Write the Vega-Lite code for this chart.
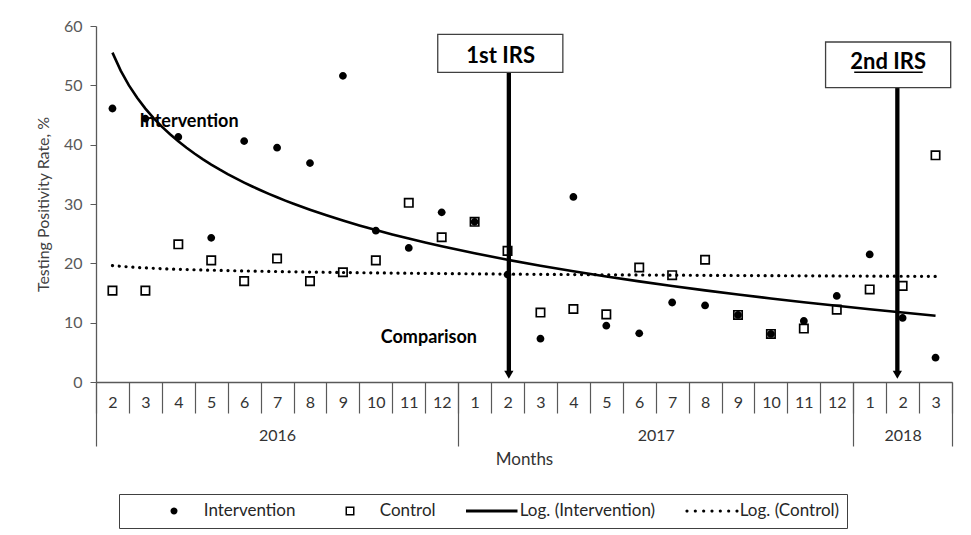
{
  "$schema": "https://vega.github.io/schema/vega-lite/v6.json",
  "width": 856,
  "height": 356,
  "autosize": {"type": "none"},
  "padding": {"left": 96, "top": 26, "right": 19, "bottom": 153},
  "background": "white",
  "config": {
    "view": {"stroke": null},
    "font": "Lato",
    "axis": {"grid": false, "labelFont": "Lato", "titleFont": "Lato"}
  },
  "datasets": {
    "irs": [
      {"label": "1st IRS", "t": 13.04, "box_left": 10.88, "box_right": 14.68, "box_bottom": 52.2, "box_top": 58.6, "text_t": 12.79, "text_v": 55.0, "arrow_end": 1.8, "head": 1.21},
      {"label": "2nd IRS", "t": 24.84, "box_left": 22.66, "box_right": 26.46, "box_bottom": 49.6, "box_top": 57.3, "text_t": 24.56, "text_v": 53.9, "arrow_end": 1.8, "head": 1.21}
    ],
    "underline": [
      {"t1": 23.53, "t2": 25.61, "v": 52.2}
    ],
    "notes": [
      {"label": "Intervention", "t": 1.82, "v": 43.9},
      {"label": "Comparison", "t": 9.15, "v": 7.35}
    ]
  },
  "data": {
    "values": [
      {"t": 1, "year": 2016, "month": 2, "intervention": 46.1, "control": 15.4},
      {"t": 2, "year": 2016, "month": 3, "intervention": 44.4, "control": 15.4},
      {"t": 3, "year": 2016, "month": 4, "intervention": 41.3, "control": 23.2},
      {"t": 4, "year": 2016, "month": 5, "intervention": 24.3, "control": 20.5},
      {"t": 5, "year": 2016, "month": 6, "intervention": 40.6, "control": 17.0},
      {"t": 6, "year": 2016, "month": 7, "intervention": 39.5, "control": 20.8},
      {"t": 7, "year": 2016, "month": 8, "intervention": 36.9, "control": 17.0},
      {"t": 8, "year": 2016, "month": 9, "intervention": 51.6, "control": 18.5},
      {"t": 9, "year": 2016, "month": 10, "intervention": 25.5, "control": 20.5},
      {"t": 10, "year": 2016, "month": 11, "intervention": 22.6, "control": 30.2},
      {"t": 11, "year": 2016, "month": 12, "intervention": 28.6, "control": 24.4},
      {"t": 12, "year": 2017, "month": 1, "intervention": 27.0, "control": 27.0},
      {"t": 13, "year": 2017, "month": 2, "intervention": 18.1, "control": 22.1},
      {"t": 14, "year": 2017, "month": 3, "intervention": 7.3, "control": 11.7},
      {"t": 15, "year": 2017, "month": 4, "intervention": 31.2, "control": 12.3},
      {"t": 16, "year": 2017, "month": 5, "intervention": 9.5, "control": 11.4},
      {"t": 17, "year": 2017, "month": 6, "intervention": 8.2, "control": 19.3},
      {"t": 18, "year": 2017, "month": 7, "intervention": 13.4, "control": 18.0},
      {"t": 19, "year": 2017, "month": 8, "intervention": 12.9, "control": 20.6},
      {"t": 20, "year": 2017, "month": 9, "intervention": 11.3, "control": 11.3},
      {"t": 21, "year": 2017, "month": 10, "intervention": 8.1, "control": 8.1},
      {"t": 22, "year": 2017, "month": 11, "intervention": 10.3, "control": 9.0},
      {"t": 23, "year": 2017, "month": 12, "intervention": 14.5, "control": 12.2},
      {"t": 24, "year": 2018, "month": 1, "intervention": 21.5, "control": 15.6},
      {"t": 25, "year": 2018, "month": 2, "intervention": 10.8, "control": 16.2},
      {"t": 26, "year": 2018, "month": 3, "intervention": 4.1, "control": 38.2}
    ]
  },
  "resolve": {"axis": {"x": "independent"}},
  "layer": [
    {
      "mark": {"type": "point", "filled": true, "fill": "#000", "strokeWidth": 0, "size": 3114, "opacity": 1},
      "encoding": {
        "x": {
          "field": "t", "type": "quantitative",
          "scale": {"domain": [0.5, 26.5], "nice": false, "zero": false},
          "axis": {
            "orient": "bottom", "values": [1,2,3,4,5,6,7,8,9,10,11,12,13,14,15,16,17,18,19,20,21,22,23,24,25,26],
            "labelExpr": "(datum.value % 12) + 1",
            "ticks": true, "tickSize": 0, "tickOpacity": 0,
            "domain": true, "domainColor": "#595959", "domainWidth": 1.3,
            "labelFontSize": 16, "labelColor": "#333333", "labelBaseline": "middle", "labelPadding": 20,
            "labelFlush": false, "labelOverlap": false, "title": null
          }
        },
        "y": {
          "field": "intervention", "type": "quantitative",
          "scale": {"domain": [0, 60], "nice": false},
          "axis": {"title": "Testing Positivity Rate, %", "values": [0, 10, 20, 30, 40, 50, 60], "domainColor": "#595959", "domainWidth": 1.3, "tickColor": "#595959", "tickSize": 6, "labelPadding": 8, "labelFontSize": 16, "labelColor": "#595959", "titleFontSize": 16, "titleFontWeight": "normal", "titleColor": "#404040", "titlePadding": 12, "grid": false}
        },
        "shape": {
          "datum": "Intervention", "type": "nominal",
          "scale": {
            "domain": ["Intervention", "Control", "Log. (Intervention)", "Log. (Control)"],
            "range": [
              "M0.14,0A0.14,0.14,0,1,1,-0.14,0A0.14,0.14,0,1,1,0.14,0Z",
              "M-0.18,-0.18H0.18V0.18H-0.18Z M-0.12,-0.12V0.12H0.12V-0.12Z",
              "M-0.96,-0.056H1.1V0.056H-0.96Z",
              "M-0.856,0A0.064,0.064,0,1,1,-0.984,0A0.064,0.064,0,1,1,-0.856,0Z M-0.5227,0A0.064,0.064,0,1,1,-0.6507,0A0.064,0.064,0,1,1,-0.5227,0Z M-0.1893,0A0.064,0.064,0,1,1,-0.3173,0A0.064,0.064,0,1,1,-0.1893,0Z M0.144,0A0.064,0.064,0,1,1,0.016,0A0.064,0.064,0,1,1,0.144,0Z M0.4773,0A0.064,0.064,0,1,1,0.3493,0A0.064,0.064,0,1,1,0.4773,0Z M0.8107,0A0.064,0.064,0,1,1,0.6827,0A0.064,0.064,0,1,1,0.8107,0Z M1.144,0A0.064,0.064,0,1,1,1.016,0A0.064,0.064,0,1,1,1.144,0Z M5.75,0L5.75,0.001L5.749,0.001Z"
            ]
          },
          "legend": {
            "orient": "none", "legendX": 23, "legendY": 468,
            "direction": "horizontal", "columns": 4,
            "title": " ", "titleOrient": "left", "titlePadding": 23, "titleFontSize": 12,
            "symbolSize": 2500, "symbolStrokeWidth": 0, "symbolFillColor": "#000",
            "clipHeight": 20,
            "labelFont": "Lato", "labelFontSize": 17, "labelColor": "#262626", "labelOffset": 4.75,
            "labelLimit": 400,
            "columnPadding": 29, "padding": 7,
            "strokeColor": "#404040", "fillColor": "white"
          }
        }
      }
    },
    {
      "mark": {"type": "point", "filled": true, "fill": "#000", "strokeWidth": 0, "size": 3114, "opacity": 1},
      "encoding": {
        "x": {
          "field": "t", "type": "quantitative",
          "scale": {"domain": [0.5, 26.5], "nice": false, "zero": false},
          "axis": {
            "orient": "bottom",
            "values": [0.5,1.5,2.5,3.5,4.5,5.5,6.5,7.5,8.5,9.5,10.5,11.5,12.5,13.5,14.5,15.5,16.5,17.5,18.5,19.5,20.5,21.5,22.5,23.5,24.5,25.5,26.5],
            "labels": false, "domain": false, "ticks": true, "tickSize": 31,
            "tickColor": "#595959", "tickWidth": 1.2, "title": null
          }
        },
        "y": {"field": "control", "type": "quantitative", "scale": {"domain": [0, 60], "nice": false}, "axis": {"title": "Testing Positivity Rate, %", "values": [0, 10, 20, 30, 40, 50, 60], "domainColor": "#595959", "domainWidth": 1.3, "tickColor": "#595959", "tickSize": 6, "labelPadding": 8, "labelFontSize": 16, "labelColor": "#595959", "titleFontSize": 16, "titleFontWeight": "normal", "titleColor": "#404040", "titlePadding": 12, "grid": false}},
        "shape": {"datum": "Control", "type": "nominal"}
      }
    },
    {
      "transform": [{"regression": "intervention", "on": "t", "method": "log"}],
      "mark": {"type": "line", "stroke": "#000", "strokeWidth": 2.6},
      "encoding": {
        "x": {
          "field": "t", "type": "quantitative",
          "scale": {"domain": [0.5, 26.5], "nice": false, "zero": false},
          "axis": {
            "orient": "bottom", "values": [0.5, 11.5, 23.5, 26.5],
            "labels": false, "domain": false, "ticks": true, "tickSize": 64,
            "tickColor": "#595959", "tickWidth": 1.2, "title": null
          }
        },
        "y": {"field": "intervention", "type": "quantitative", "scale": {"domain": [0, 60], "nice": false}, "axis": {"title": "Testing Positivity Rate, %", "values": [0, 10, 20, 30, 40, 50, 60], "domainColor": "#595959", "domainWidth": 1.3, "tickColor": "#595959", "tickSize": 6, "labelPadding": 8, "labelFontSize": 16, "labelColor": "#595959", "titleFontSize": 16, "titleFontWeight": "normal", "titleColor": "#404040", "titlePadding": 12, "grid": false}}
      }
    },
    {
      "transform": [{"regression": "control", "on": "t", "method": "log"}],
      "mark": {"type": "line", "stroke": "#000", "strokeWidth": 3.2, "strokeDash": [0.1, 6.7], "strokeCap": "round"},
      "encoding": {
        "x": {
          "field": "t", "type": "quantitative",
          "scale": {"domain": [0.5, 26.5], "nice": false, "zero": false},
          "axis": {
            "orient": "bottom", "values": [6, 17.5, 25],
            "labelExpr": "datum.value < 12 ? '2016' : datum.value < 24 ? '2017' : '2018'",
            "ticks": true, "tickSize": 0, "tickOpacity": 0, "domain": false,
            "labelFontSize": 16, "labelColor": "#333333", "labelBaseline": "middle", "labelPadding": 53,
            "labelFlush": false, "labelOverlap": false,
            "title": "Months", "titleFontSize": 17, "titleFontWeight": "normal", "titleColor": "#333333", "titlePadding": 8
          }
        },
        "y": {"field": "control", "type": "quantitative", "scale": {"domain": [0, 60], "nice": false}, "axis": {"title": "Testing Positivity Rate, %", "values": [0, 10, 20, 30, 40, 50, 60], "domainColor": "#595959", "domainWidth": 1.3, "tickColor": "#595959", "tickSize": 6, "labelPadding": 8, "labelFontSize": 16, "labelColor": "#595959", "titleFontSize": 16, "titleFontWeight": "normal", "titleColor": "#404040", "titlePadding": 12, "grid": false}}
      }
    },
    {
      "data": {"name": "irs"},
      "mark": {"type": "rule", "stroke": "#000", "strokeWidth": 4.3},
      "encoding": {
        "x": {"field": "t", "type": "quantitative", "scale": {"domain": [0.5, 26.5], "nice": false, "zero": false}, "axis": null},
        "y": {"field": "box_bottom", "type": "quantitative", "scale": {"domain": [0, 60], "nice": false}, "axis": {"title": "Testing Positivity Rate, %", "values": [0, 10, 20, 30, 40, 50, 60], "domainColor": "#595959", "domainWidth": 1.3, "tickColor": "#595959", "tickSize": 6, "labelPadding": 8, "labelFontSize": 16, "labelColor": "#595959", "titleFontSize": 16, "titleFontWeight": "normal", "titleColor": "#404040", "titlePadding": 12, "grid": false}},
        "y2": {"field": "arrow_end"}
      }
    },
    {
      "data": {"name": "irs"},
      "mark": {"type": "point", "shape": "triangle-down", "filled": true, "fill": "#000", "strokeWidth": 0, "size": 85, "opacity": 1},
      "encoding": {
        "x": {"field": "t", "type": "quantitative", "scale": {"domain": [0.5, 26.5], "nice": false, "zero": false}, "axis": null},
        "y": {"field": "head", "type": "quantitative", "scale": {"domain": [0, 60], "nice": false}, "axis": {"title": "Testing Positivity Rate, %", "values": [0, 10, 20, 30, 40, 50, 60], "domainColor": "#595959", "domainWidth": 1.3, "tickColor": "#595959", "tickSize": 6, "labelPadding": 8, "labelFontSize": 16, "labelColor": "#595959", "titleFontSize": 16, "titleFontWeight": "normal", "titleColor": "#404040", "titlePadding": 12, "grid": false}}
      }
    },
    {
      "data": {"name": "irs"},
      "mark": {"type": "rect", "fill": "white", "stroke": "#404040", "strokeWidth": 1.3},
      "encoding": {
        "x": {"field": "box_left", "type": "quantitative", "scale": {"domain": [0.5, 26.5], "nice": false, "zero": false}, "axis": null},
        "x2": {"field": "box_right"},
        "y": {"field": "box_bottom", "type": "quantitative", "scale": {"domain": [0, 60], "nice": false}, "axis": {"title": "Testing Positivity Rate, %", "values": [0, 10, 20, 30, 40, 50, 60], "domainColor": "#595959", "domainWidth": 1.3, "tickColor": "#595959", "tickSize": 6, "labelPadding": 8, "labelFontSize": 16, "labelColor": "#595959", "titleFontSize": 16, "titleFontWeight": "normal", "titleColor": "#404040", "titlePadding": 12, "grid": false}},
        "y2": {"field": "box_top"}
      }
    },
    {
      "data": {"name": "irs"},
      "mark": {"type": "text", "font": "Lato", "fontSize": 22, "fontWeight": "bold", "color": "#000", "align": "center", "baseline": "middle"},
      "encoding": {
        "x": {"field": "text_t", "type": "quantitative", "scale": {"domain": [0.5, 26.5], "nice": false, "zero": false}, "axis": null},
        "y": {"field": "text_v", "type": "quantitative", "scale": {"domain": [0, 60], "nice": false}, "axis": {"title": "Testing Positivity Rate, %", "values": [0, 10, 20, 30, 40, 50, 60], "domainColor": "#595959", "domainWidth": 1.3, "tickColor": "#595959", "tickSize": 6, "labelPadding": 8, "labelFontSize": 16, "labelColor": "#595959", "titleFontSize": 16, "titleFontWeight": "normal", "titleColor": "#404040", "titlePadding": 12, "grid": false}},
        "text": {"field": "label"}
      }
    },
    {
      "data": {"name": "underline"},
      "mark": {"type": "rule", "stroke": "#000", "strokeWidth": 1.5},
      "encoding": {
        "x": {"field": "t1", "type": "quantitative", "scale": {"domain": [0.5, 26.5], "nice": false, "zero": false}, "axis": null},
        "x2": {"field": "t2"},
        "y": {"field": "v", "type": "quantitative", "scale": {"domain": [0, 60], "nice": false}, "axis": {"title": "Testing Positivity Rate, %", "values": [0, 10, 20, 30, 40, 50, 60], "domainColor": "#595959", "domainWidth": 1.3, "tickColor": "#595959", "tickSize": 6, "labelPadding": 8, "labelFontSize": 16, "labelColor": "#595959", "titleFontSize": 16, "titleFontWeight": "normal", "titleColor": "#404040", "titlePadding": 12, "grid": false}}
      }
    },
    {
      "data": {"name": "notes"},
      "mark": {"type": "text", "font": "Lato", "fontSize": 18, "fontWeight": "bold", "color": "#000", "align": "left", "baseline": "middle"},
      "encoding": {
        "x": {"field": "t", "type": "quantitative", "scale": {"domain": [0.5, 26.5], "nice": false, "zero": false}, "axis": null},
        "y": {"field": "v", "type": "quantitative", "scale": {"domain": [0, 60], "nice": false}, "axis": {"title": "Testing Positivity Rate, %", "values": [0, 10, 20, 30, 40, 50, 60], "domainColor": "#595959", "domainWidth": 1.3, "tickColor": "#595959", "tickSize": 6, "labelPadding": 8, "labelFontSize": 16, "labelColor": "#595959", "titleFontSize": 16, "titleFontWeight": "normal", "titleColor": "#404040", "titlePadding": 12, "grid": false}},
        "text": {"field": "label"}
      }
    }
  ]
}
